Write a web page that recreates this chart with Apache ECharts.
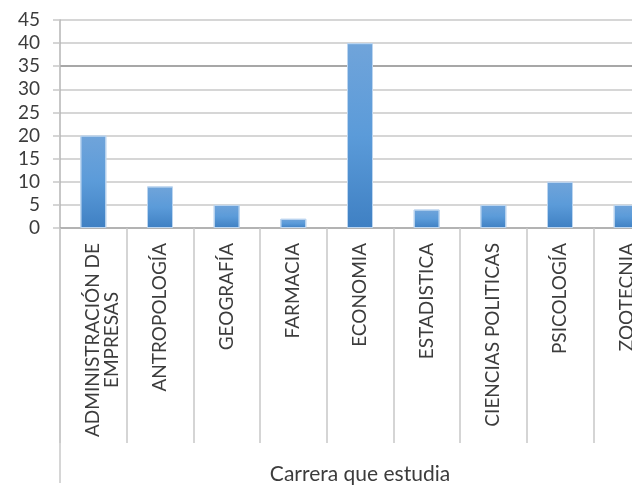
<!DOCTYPE html>
<html>
<head>
<meta charset="utf-8">
<script src="https://cdn.jsdelivr.net/npm/echarts@6/dist/echarts.min.js"></script>
<style>
  html, body { margin: 0; padding: 0; background: #fff; }
  #chart { width: 632px; height: 488px; }
</style>
</head>
<body>
<div id="chart"></div>
<script>
// Students per degree programme
const categories = [
  'ADMINISTRACIÓN DE\nEMPRESAS',
  'ANTROPOLOGÍA',
  'GEOGRAFÍA',
  'FARMACIA',
  'ECONOMIA',
  'ESTADISTICA',
  'CIENCIAS POLITICAS',
  'PSICOLOGÍA',
  'ZOOTECNIA'
];
const values = [20, 9, 5, 2, 40, 4, 5, 10, 5];
const yTicks = { min: 0, max: 45, step: 5 };
const xTitle = 'Carrera que estudia';

const fontFamily = 'Lato, "Open Sans", sans-serif';
const textColor = '#3c3c3c';

// One colour per split line (0..45); the 35 line is drawn darker
const splitColors = [];
for (let v = yTicks.min; v <= yTicks.max; v += yTicks.step) {
  splitColors.push(v === 35 ? '#8a8a8a' : '#c8c8c8');
}

const chart = echarts.init(document.getElementById('chart'), null, { renderer: 'canvas' });

const option = {
  backgroundColor: '#ffffff',
  animation: false,
  grid: { left: 60, top: 20, width: 600, bottom: 260, containLabel: false, outerBoundsMode: 'none' },
  xAxis: {
    type: 'category',
    data: categories,
    boundaryGap: true,
    axisLine: { show: true, lineStyle: { color: '#a8a8a8', width: 1.5 } },
    axisTick: { show: true, alignWithLabel: false, length: 215, lineStyle: { color: '#c8c8c8', width: 1.5 } },
    axisLabel: {
      interval: 0,
      rotate: 90,
      margin: 15,
      fontFamily: fontFamily,
      fontSize: 19,
      color: textColor,
      lineHeight: 19,
      // multi-line labels keep their first line on the tick centre
      formatter: function (val) {
        const lines = val.split('\n').map(function (l) { return '{c|' + l + '}'; });
        if (lines.length > 1) lines.unshift('{c| }');
        return lines.join('\n');
      },
      rich: { c: { align: 'center', fontFamily: fontFamily, fontSize: 19, color: textColor, lineHeight: 19 } }
    },
    name: xTitle,
    nameLocation: 'middle',
    nameGap: 236,
    nameTextStyle: { fontFamily: fontFamily, fontSize: 21, color: textColor }
  },
  yAxis: {
    type: 'value',
    min: yTicks.min,
    max: yTicks.max,
    interval: yTicks.step,
    axisLine: { show: true, lineStyle: { color: '#b4b4b4', width: 1.5 } },
    axisTick: { show: true, length: 7, lineStyle: { color: '#c8c8c8', width: 1.5 } },
    axisLabel: { fontFamily: fontFamily, fontSize: 19, color: textColor, margin: 20 },
    splitLine: { show: true, lineStyle: { color: splitColors, width: 1.5 } }
  },
  series: [{
    type: 'bar',
    data: values,
    barWidth: 26,
    itemStyle: {
      borderColor: '#bcd5ef',
      borderWidth: 1,
      color: new echarts.graphic.LinearGradient(0, 0, 0, 1, [
        { offset: 0, color: '#70a4da' },
        { offset: 0.5, color: '#5b9bd9' },
        { offset: 1, color: '#3f80c3' }
      ])
    }
  }]
};

chart.setOption(option);

// The value axis line continues down through the label band to the title row
const rect = chart.getModel().getComponent('grid', 0).coordinateSystem.getRect();
chart.setOption({
  graphic: [{
    type: 'line',
    silent: true,
    shape: { x1: rect.x, y1: rect.y + rect.height, x2: rect.x, y2: rect.y + rect.height + 255 },
    style: { stroke: '#c8c8c8', lineWidth: 1.5 }
  }]
});
</script>
</body>
</html>
